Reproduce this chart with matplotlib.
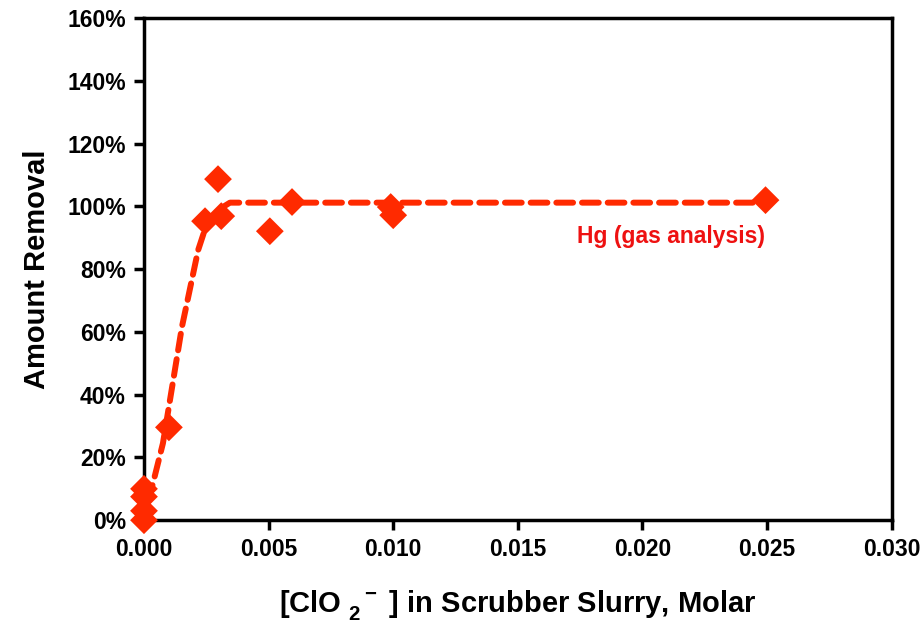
import numpy as np
import matplotlib.pyplot as plt
from matplotlib.ticker import FuncFormatter

plt.rcParams["font.family"] = ["Liberation Sans", "DejaVu Sans"]
plt.rcParams["font.weight"] = "bold"
plt.rcParams["mathtext.fontset"] = "custom"
plt.rcParams["mathtext.rm"] = "Liberation Sans:bold"
plt.rcParams["mathtext.it"] = "Liberation Sans:bold"
plt.rcParams["mathtext.bf"] = "Liberation Sans:bold"

# measured points: ClO2- concentration (M) vs Hg removal (fraction)
conc = [0.0, 0.0, 0.0, 0.0, 0.001, 0.00245, 0.00297, 0.0031, 0.00505, 0.00594, 0.0099, 0.0100, 0.02494]
removal = [0.00, 0.03, 0.075, 0.10, 0.296, 0.953, 1.087, 0.969, 0.921, 1.014, 0.998, 0.972, 1.020]

# hand-drawn trend line
fit_x = [0.00018, 0.00076, 0.00152, 0.00217, 0.0025, 0.0030, 0.00345, 0.0250]
fit_y = [0.06, 0.245, 0.615, 0.86, 0.94, 0.99, 1.012, 1.012]

red = "#FF2A00"

fig = plt.figure(figsize=(9.23, 6.26), dpi=100)
ax = fig.add_axes([0.156, 0.169, 0.810, 0.802])

ax.plot(fit_x, fit_y, color=red, lw=4.3, linestyle=(0, (2.8, 1.5)),
        dash_capstyle="round", solid_capstyle="round", zorder=2)
ax.scatter(conc, removal, marker="D", s=200, color=red, edgecolors="none", zorder=3, clip_on=False)

ax.text(0.0249, 0.905, "Hg (gas analysis)", color="#EE1111", fontsize=16.5,
        fontweight="bold", ha="right", va="center")

ax.set_xlim(0, 0.030)
ax.set_ylim(0, 1.6)
ax.set_xticks(np.arange(0, 0.0301, 0.005))
ax.set_yticks(np.arange(0, 1.61, 0.2))
ax.xaxis.set_major_formatter(FuncFormatter(lambda v, p: f"{v:.3f}"))
ax.yaxis.set_major_formatter(FuncFormatter(lambda v, p: f"{v*100:.0f}%"))

for s in ax.spines.values():
    s.set_linewidth(2.5)
ax.tick_params(direction="out", length=7, width=2.5, labelsize=16.5, pad=6)

ax.set_xlabel("[ClO $_{2}^{\\ \\ -}$ ] in Scrubber Slurry, Molar", fontsize=21, fontweight="bold", labelpad=19)
ax.set_ylabel("Amount Removal", fontsize=21, fontweight="bold", labelpad=12)

fig.savefig("out.png", dpi=100)
